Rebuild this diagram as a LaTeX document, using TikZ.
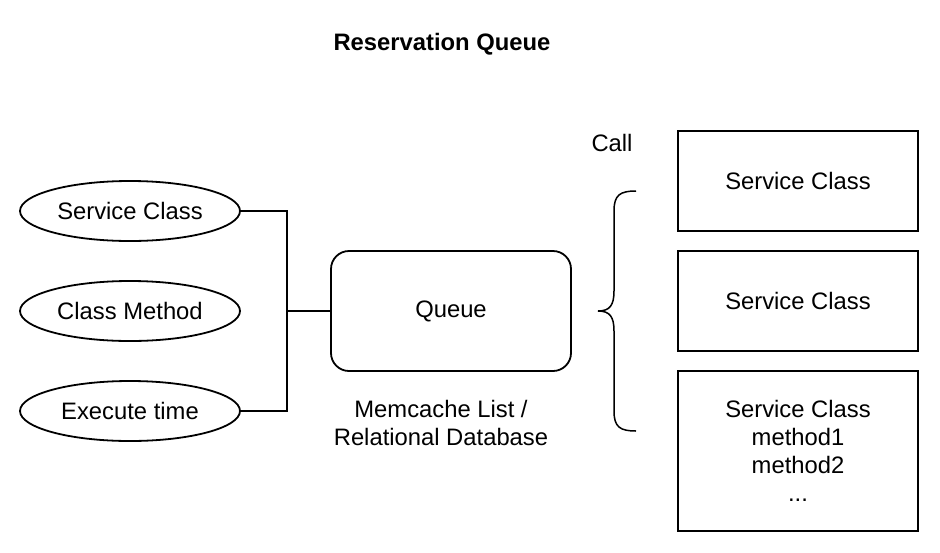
\documentclass[tikz,border=0pt]{standalone}
\usepackage{fontspec}
\setmainfont{Liberation Sans}
\usetikzlibrary{shapes.geometric}
\begin{document}
\begin{tikzpicture}[x=1pt, y=-1pt, line width=1.8pt,
    font=\fontsize{23.8}{28}\selectfont,
    campo/.style={draw, ellipse, minimum width=220pt, minimum height=60pt, inner sep=0pt},
    servicio/.style={draw, minimum width=240pt, inner sep=0pt, align=center},
    texto/.style={align=center}]
        \useasboundingbox (0,0) rectangle (940,552);

        % Titulo
        \node[font=\fontsize{23.8}{28}\selectfont\bfseries] (titulo) at (442,44) {Reservation Queue};

        % Campos de la reserva
        \node[campo] (clase) at (130,211) {Service Class};
        \node[campo] (metodo) at (130,311) {Class Method};
        \node[campo] (tiempo) at (130,411) {Execute time};

        % Cola
        \node[draw, rounded corners=18pt, minimum width=240pt, minimum height=120pt] (cola) at (451,311) {Queue};
        \node[texto] (almacen) at (441,423) {Memcache List /\\Relational Database};

        % Conexiones
        \draw (clase.east) -- ++(46,0) |- (cola.west);
        \draw (tiempo.east) -- ++(46,0) |- (cola.west);

        % Llamadas
        \node (llamada) at (612,143) {Call};
        \draw[line width=1.5pt] (636,191) .. controls (620,191) and (614,195) .. (614,211) -- (614,291)
            .. controls (614,305) and (610,311) .. (598,311)
            .. controls (610,311) and (614,317) .. (614,331) -- (614,411)
            .. controls (614,427) and (620,431) .. (636,431);

        % Clases de servicio
        \node[servicio, minimum height=100pt] (serv1) at (798,181) {Service Class};
        \node[servicio, minimum height=100pt] (serv2) at (798,301) {Service Class};
        \node[servicio, minimum height=160pt] (serv3) at (798,451) {Service Class\\method1\\method2\\...};
    \end{tikzpicture}
\end{document}
